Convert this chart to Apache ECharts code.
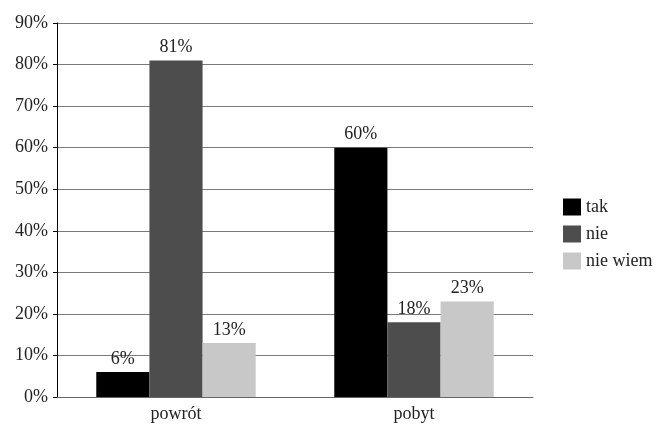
<!DOCTYPE html>
<html>
<head>
<meta charset="utf-8">
<style>html,body{margin:0;padding:0;background:#fff}#c{width:659px;height:426px}</style>
<script src="https://cdn.jsdelivr.net/npm/echarts@6/dist/echarts.min.js"></script>
</head>
<body>
<div id="c"></div>
<script>
// Survey answers per category (percent)
const categories = ['powrót', 'pobyt'];
const seriesNames = ['tak', 'nie', 'nie wiem'];
const tak = [6, 60];
const nie = [81, 18];
const nieWiem = [13, 23];
const colors = ['#000000', '#4d4d4d', '#c8c8c8'];

const font = 'Liberation Serif';
const chart = echarts.init(document.getElementById('c'), null, {renderer: 'canvas'});

const mk = (name, data, color) => ({
  name, type: 'bar', data,
  barGap: '0%', barCategoryGap: '33%',
  itemStyle: {color},
  label: {show: true, position: 'top', distance: 4, formatter: '{c}%',
          color: '#222', fontFamily: font, fontSize: 18}
});

chart.setOption({
  animation: false,
  color: colors,
  grid: {left: 57, right: 126, top: 23, bottom: 29, containLabel: false},
  legend: {
    orient: 'vertical', left: 558, top: 193,
    itemWidth: 18, itemHeight: 17, itemGap: 9,
    icon: 'rect',
    textStyle: {fontFamily: font, fontSize: 18, color: '#222'},
    data: seriesNames
  },
  xAxis: {
    type: 'category', data: categories,
    axisLine: {lineStyle: {color: '#666', width: 1}},
    axisTick: {show: false},
    axisLabel: {fontFamily: font, fontSize: 18, color: '#222', margin: 8}
  },
  yAxis: {
    type: 'value', min: 0, max: 90, interval: 10,
    axisLine: {show: true, lineStyle: {color: '#000', width: 1}},
    axisTick: {show: true, length: 4, lineStyle: {color: '#000'}},
    axisLabel: {fontFamily: font, fontSize: 18, color: '#222', formatter: '{value}%', margin: 9},
    splitLine: {lineStyle: {color: '#7a7a7a', width: 1}}
  },
  series: [
    mk(seriesNames[0], tak, colors[0]),
    mk(seriesNames[1], nie, colors[1]),
    mk(seriesNames[2], nieWiem, colors[2])
  ]
});
</script>
</body>
</html>
